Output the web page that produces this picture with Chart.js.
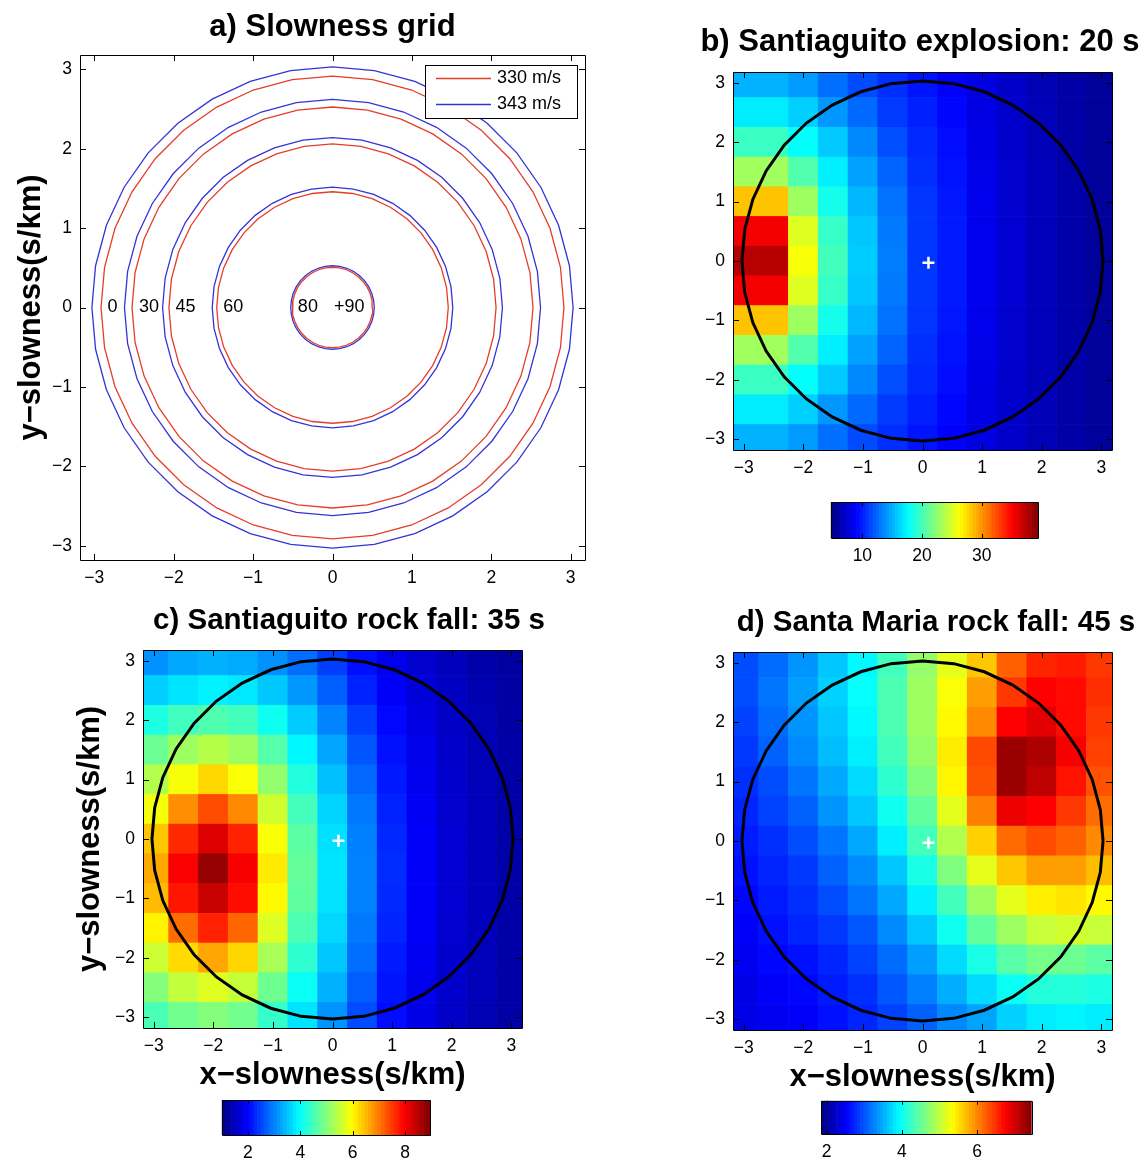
<!DOCTYPE html>
<html>
<head>
<meta charset="utf-8">
<script src="https://cdn.jsdelivr.net/npm/chart.js@4.4.1/dist/chart.umd.min.js"></script>
<style>
html, body { margin: 0; background: #fff; overflow: hidden; width: 1147px; height: 1160px; }
canvas { position: absolute; }
</style>
</head>
<body>
<canvas id="chA" width="665" height="600" style="left:0;top:0"></canvas>
<canvas id="chB" width="454" height="490" style="left:693px;top:0"></canvas>
<canvas id="cbB" width="270" height="75" style="left:800px;top:495px"></canvas>
<canvas id="chC" width="698" height="500" style="left:0;top:595px"></canvas>
<canvas id="cbC" width="270" height="68" style="left:190px;top:1095px"></canvas>
<canvas id="chD" width="482" height="500" style="left:695px;top:597px"></canvas>
<canvas id="cbD" width="270" height="66" style="left:790px;top:1097px"></canvas>
<script>
const q = (s) => document.querySelector(s);

// axes
const tickVals = [-3, -2, -1, 0, 1, 2, 3];
const axisMax = 3.18;

// panel a: slowness rings (s/km)
const ringsRed = [2.915, 2.525, 2.06, 1.458, 0.506];   // 330 m/s
const ringsBlue = [3.03, 2.62, 2.14, 1.515, 0.526];    // 343 m/s
const ringNames = ['330 m/s', '343 m/s'];
const angleLabels = ['0', '30', '45', '60', '80', '+90'];
const angleLabelX = [-2.77, -2.31, -1.85, -1.25, -0.31, 0.21];
const ringSides = 36;

// panels b-d
const outlineRadius = 3.03;
const crossPos = [0.1, -0.03];
const xCells = [-3, -2.5, -2, -1.5, -1, -0.5, 0, 0.5, 1, 1.5, 2, 2.5, 3];
const yCells = [3, 2.5, 2, 1.5, 1, 0.5, 0, -0.5, -1, -1.5, -2, -2.5, -3];

const rangeB = [4.7, 39.4];
const cbTicksB = [10, 20, 30];
const gridB = [
  [15.1, 15.1, 14.3, 12.8, 11.6, 10.6, 9.7, 8.9, 8.0, 7.2, 6.5, 6.0, 5.6],
  [17.1, 17.1, 16.1, 14.2, 12.6, 11.0, 10.1, 9.2, 8.1, 7.3, 6.6, 6.0, 5.6],
  [19.7, 19.7, 17.8, 15.9, 13.7, 11.7, 10.4, 9.4, 8.2, 7.3, 6.6, 6.0, 5.6],
  [23.2, 23.2, 20.5, 17.2, 14.5, 12.4, 10.6, 9.6, 8.3, 7.4, 6.7, 6.1, 5.6],
  [28.4, 28.4, 23.1, 18.4, 15.3, 12.9, 10.8, 9.8, 8.4, 7.4, 6.7, 6.1, 5.6],
  [35.4, 35.4, 25.3, 19.6, 15.8, 13.2, 10.9, 9.9, 8.4, 7.5, 6.7, 6.1, 5.6],
  [37.5, 37.5, 26.2, 20.0, 16.0, 13.3, 10.9, 9.9, 8.5, 7.5, 6.7, 6.1, 5.6],
  [35.4, 35.4, 25.3, 19.6, 15.8, 13.2, 10.9, 9.9, 8.4, 7.5, 6.7, 6.1, 5.6],
  [28.4, 28.4, 23.1, 18.4, 15.3, 12.9, 10.8, 9.8, 8.4, 7.4, 6.7, 6.1, 5.6],
  [23.2, 23.2, 20.5, 17.2, 14.5, 12.4, 10.6, 9.6, 8.3, 7.4, 6.7, 6.1, 5.6],
  [19.7, 19.7, 17.8, 15.9, 13.7, 11.7, 10.4, 9.4, 8.2, 7.3, 6.6, 6.0, 5.6],
  [17.1, 17.1, 16.1, 14.2, 12.6, 11.0, 10.1, 9.2, 8.1, 7.3, 6.6, 6.0, 5.6],
  [15.1, 15.1, 14.3, 12.8, 11.6, 10.6, 9.7, 8.9, 8.0, 7.2, 6.5, 6.0, 5.6]
];

const rangeC = [1.0, 8.95];
const cbTicksC = [2, 4, 6, 8];
const gridC = [
  [3.14, 3.30, 3.37, 3.33, 3.12, 2.85, 2.48, 2.10, 1.85, 1.62, 1.48, 1.34, 1.26],
  [3.60, 3.78, 3.88, 3.80, 3.55, 3.18, 2.74, 2.25, 1.95, 1.69, 1.52, 1.38, 1.28],
  [4.20, 4.48, 4.60, 4.50, 4.08, 3.58, 3.02, 2.48, 2.04, 1.77, 1.56, 1.41, 1.29],
  [4.82, 5.21, 5.40, 5.23, 4.65, 3.93, 3.28, 2.66, 2.12, 1.83, 1.58, 1.43, 1.30],
  [5.37, 5.91, 6.27, 5.93, 5.13, 4.24, 3.49, 2.80, 2.18, 1.87, 1.60, 1.45, 1.31],
  [5.89, 6.85, 7.37, 6.89, 5.60, 4.51, 3.65, 2.92, 2.25, 1.91, 1.62, 1.47, 1.31],
  [6.41, 7.64, 8.23, 7.70, 5.93, 4.69, 3.74, 2.99, 2.30, 1.94, 1.64, 1.48, 1.32],
  [6.64, 7.99, 8.78, 8.03, 6.13, 4.76, 3.78, 3.01, 2.33, 1.95, 1.64, 1.48, 1.32],
  [6.50, 7.79, 8.39, 7.86, 6.01, 4.72, 3.76, 3.00, 2.31, 1.94, 1.64, 1.48, 1.32],
  [6.06, 7.11, 7.70, 7.16, 5.71, 4.58, 3.68, 2.94, 2.27, 1.92, 1.63, 1.47, 1.31],
  [5.56, 6.25, 6.66, 6.29, 5.30, 4.35, 3.55, 2.85, 2.19, 1.89, 1.61, 1.45, 1.31],
  [5.02, 5.49, 5.71, 5.52, 4.84, 4.05, 3.37, 2.73, 2.14, 1.85, 1.60, 1.44, 1.30],
  [4.55, 4.86, 5.00, 4.87, 4.39, 3.77, 3.15, 2.57, 2.08, 1.80, 1.57, 1.42, 1.29]
];

const rangeD = [1.85, 7.45];
const cbTicksD = [2, 4, 6];
const gridD = [
  [2.97, 3.14, 3.36, 3.64, 3.92, 4.31, 4.76, 5.21, 5.66, 6.22, 6.55, 6.61, 6.44],
  [2.97, 3.19, 3.42, 3.70, 3.98, 4.37, 4.82, 5.32, 5.88, 6.45, 6.75, 6.70, 6.50],
  [2.91, 3.14, 3.36, 3.64, 3.92, 4.37, 4.82, 5.38, 6.00, 6.75, 6.90, 6.70, 6.45],
  [2.86, 3.08, 3.31, 3.59, 3.87, 4.31, 4.76, 5.45, 6.35, 7.30, 7.20, 6.80, 6.40],
  [2.80, 2.97, 3.19, 3.47, 3.75, 4.20, 4.65, 5.40, 6.30, 7.30, 7.10, 6.65, 6.30],
  [2.75, 2.91, 3.08, 3.36, 3.64, 4.03, 4.48, 5.20, 6.05, 6.85, 6.75, 6.45, 6.15],
  [2.69, 2.80, 2.97, 3.19, 3.47, 3.87, 4.31, 4.93, 5.60, 6.16, 6.33, 6.22, 5.99],
  [2.63, 2.75, 2.86, 3.08, 3.31, 3.64, 4.09, 4.65, 5.21, 5.66, 5.88, 5.88, 5.71],
  [2.58, 2.69, 2.80, 2.97, 3.19, 3.47, 3.87, 4.31, 4.82, 5.21, 5.43, 5.49, 5.38],
  [2.52, 2.63, 2.75, 2.86, 3.03, 3.31, 3.64, 4.03, 4.48, 4.82, 5.04, 5.10, 5.04],
  [2.47, 2.58, 2.63, 2.75, 2.91, 3.14, 3.42, 3.75, 4.09, 4.43, 4.60, 4.55, 4.45],
  [2.41, 2.52, 2.58, 2.69, 2.80, 3.03, 3.25, 3.50, 3.75, 4.00, 4.15, 4.15, 4.10],
  [2.41, 2.47, 2.52, 2.63, 2.75, 2.91, 3.08, 3.30, 3.45, 3.70, 3.85, 3.90, 3.85]
];

Chart.defaults.font.family = '"Liberation Sans", Arial, Helvetica, sans-serif';
Chart.defaults.color = '#000';
Chart.defaults.animation = false;

const fmt = (v) => String(v).replace('-', '\u2212');
const tickFont = { size: 17.5 };
const bigFont = { size: 31, weight: 'bold' };
const fontCss = '18px "Liberation Sans", Arial, sans-serif';

function jet(t) {
  t = Math.min(1, Math.max(0, t));
  const c = (v) => Math.round(255 * Math.min(1, Math.max(0, v)));
  return `rgb(${c(1.5 - Math.abs(4 * t - 3))},${c(1.5 - Math.abs(4 * t - 2))},${c(1.5 - Math.abs(4 * t - 1))})`;
}

const ring = (r) => Array.from({ length: ringSides + 1 }, (_, i) => {
  const a = (i / ringSides) * 2 * Math.PI;
  return { x: r * Math.cos(a), y: r * Math.sin(a) };
});

// box round the axes, with matlab style inward ticks
const framePlugin = {
  id: 'frame',
  afterDatasetsDraw(chart, args, opts) {
    const { ctx, chartArea: a, scales } = chart;
    const L = opts.len || 6;
    ctx.save();
    ctx.strokeStyle = '#000';
    ctx.lineWidth = 1;
    ctx.beginPath();
    scales.x.ticks.forEach((t) => {
      const px = Math.round(scales.x.getPixelForValue(t.value)) + 0.5;
      ctx.moveTo(px, a.bottom); ctx.lineTo(px, a.bottom - L);
      ctx.moveTo(px, a.top); ctx.lineTo(px, a.top + L);
    });
    if (scales.y.options.display) {
      scales.y.ticks.forEach((t) => {
        const py = Math.round(scales.y.getPixelForValue(t.value)) + 0.5;
        ctx.moveTo(a.left, py); ctx.lineTo(a.left + L, py);
        ctx.moveTo(a.right, py); ctx.lineTo(a.right - L, py);
      });
    }
    ctx.rect(Math.round(a.left) + 0.5, Math.round(a.top) + 0.5, Math.round(a.right - a.left), Math.round(a.bottom - a.top));
    ctx.stroke();
    ctx.restore();
  }
};

const ringLegend = {
  id: 'ringLegend',
  afterDatasetsDraw(chart) {
    const { ctx, chartArea: a } = chart;
    const items = chart.data.datasets.filter((d) => d.label);
    const w = 152, h = 53, x0 = Math.round(a.right - 8 - w), y0 = Math.round(a.top + 10);
    ctx.save();
    ctx.fillStyle = '#fff';
    ctx.fillRect(x0, y0, w, h);
    ctx.strokeStyle = '#000';
    ctx.lineWidth = 1;
    ctx.strokeRect(x0 + 0.5, y0 + 0.5, w, h);
    ctx.font = fontCss;
    ctx.textBaseline = 'middle';
    ctx.fillStyle = '#000';
    items.forEach((d, i) => {
      const yy = y0 + 13.5 + i * 26;
      ctx.strokeStyle = d.borderColor;
      ctx.lineWidth = d.borderWidth;
      ctx.beginPath(); ctx.moveTo(x0 + 11, yy); ctx.lineTo(x0 + 66, yy); ctx.stroke();
      ctx.fillText(d.label, x0 + 72, yy);
    });
    ctx.restore();
  }
};

const angleText = {
  id: 'angleText',
  afterDatasetsDraw(chart) {
    const { ctx, scales: { x, y } } = chart;
    ctx.save();
    ctx.font = fontCss;
    ctx.textAlign = 'center';
    ctx.textBaseline = 'middle';
    ctx.fillStyle = '#000';
    angleLabels.forEach((t, i) => ctx.fillText(t, x.getPixelForValue(angleLabelX[i]), y.getPixelForValue(0)));
    ctx.restore();
  }
};

function axes(o) {
  return {
    x: {
      type: 'linear', min: -axisMax, max: axisMax, offset: false,
      grid: { display: false, drawTicks: false }, border: { display: false },
      ticks: { font: tickFont, padding: 8, maxRotation: 0, callback: fmt },
      afterBuildTicks: (s) => { s.ticks = tickVals.map((value) => ({ value })); },
      afterFit: (s) => { s.height = o.bottom; },
      title: o.xTitle ? { display: true, text: 'x\u2212slowness(s/km)', font: bigFont, padding: { top: 0, bottom: o.xTitlePad } } : { display: false }
    },
    y: {
      type: 'linear', min: -axisMax, max: axisMax,
      grid: { display: false, drawTicks: false }, border: { display: false },
      ticks: { font: tickFont, padding: 8, callback: fmt },
      afterBuildTicks: (s) => { s.ticks = tickVals.map((value) => ({ value })); },
      afterFit: (s) => { s.width = o.left; },
      title: o.yTitle ? { display: true, text: 'y\u2212slowness(s/km)', font: bigFont, padding: { top: o.yTitlePad, bottom: 0 } } : { display: false }
    },
    yR: {
      position: 'right', display: true,
      ticks: { display: false }, grid: { display: false }, border: { display: false },
      afterFit: (s) => { s.width = o.right; }
    }
  };
}

function baseOptions(o) {
  return {
    responsive: false,
    animation: false,
    layout: { padding: 0 },
    plugins: {
      legend: { display: false },
      tooltip: { enabled: false },
      title: { display: true, text: o.title, font: { size: o.titleSize || 31, weight: 'bold' }, color: '#000', padding: { top: o.titleTop, bottom: o.titleBottom } },
      frame: { len: 6 }
    },
    scales: axes(o)
  };
}

// a) slowness grid
const ringSets = [];
ringsRed.forEach((r, i) => ringSets.push({ label: i === 0 ? ringNames[0] : '', data: ring(r), borderColor: '#e63c2a', borderWidth: 1.3 }));
ringsBlue.forEach((r, i) => ringSets.push({ label: i === 0 ? ringNames[1] : '', data: ring(r), borderColor: '#3434d6', borderWidth: 1.3 }));
new Chart(q('#chA'), {
  type: 'scatter',
  data: { datasets: ringSets.map((d) => ({ ...d, showLine: true, pointRadius: 0, fill: false })) },
  options: baseOptions({ title: 'a) Slowness grid', titleTop: 8.4, titleBottom: 9.4, left: 80, right: 80, bottom: 40, yTitle: true, yTitlePad: 12.4 }),
  plugins: [framePlugin, angleText, ringLegend]
});

function heatChart(id, grid, range, o) {
  const data = [], colors = [];
  const half = (xCells[1] - xCells[0]) / 2;
  yCells.forEach((y, r) => xCells.forEach((x, c) => {
    data.push({ x, y: [y - half, y + half] });
    colors.push(jet((grid[r][c] - range[0]) / (range[1] - range[0])));
  }));
  return new Chart(q(id), {
    type: 'bar',
    data: {
      datasets: [
        { type: 'scatter', data: [{ x: crossPos[0], y: crossPos[1] }], pointStyle: 'cross', pointRadius: 6, borderColor: '#fff', borderWidth: 2.5, order: 0 },
        { type: 'line', data: ring(outlineRadius), borderColor: '#000', borderWidth: 3, pointRadius: 0, fill: false, order: 1 },
        { data, backgroundColor: colors, borderWidth: 0, barPercentage: 1, categoryPercentage: 1, clip: 0, order: 2 }
      ]
    },
    options: baseOptions(o),
    plugins: [framePlugin]
  });
}

function colorbar(id, range, ticks, o) {
  const n = 64, step = (range[1] - range[0]) / n;
  const data = [], colors = [];
  for (let i = 0; i < n; i++) {
    data.push({ x: range[0] + step * (i + 0.5), y: [0, 1] });
    colors.push(jet((i + 0.5) / n));
  }
  return new Chart(q(id), {
    type: 'bar',
    data: { datasets: [{ data, backgroundColor: colors, borderWidth: 0, barPercentage: 1, categoryPercentage: 1, clip: 0 }] },
    options: {
      responsive: false,
      animation: false,
      layout: { padding: { left: o.left, right: o.right, top: o.top, bottom: 0 } },
      plugins: { legend: { display: false }, tooltip: { enabled: false }, frame: { len: 4 } },
      scales: {
        x: {
          type: 'linear', min: range[0], max: range[1], offset: false,
          grid: { display: false, drawTicks: false }, border: { display: false },
          ticks: { font: tickFont, padding: 8, maxRotation: 0 },
          afterBuildTicks: (s) => { s.ticks = ticks.map((value) => ({ value })); },
          afterFit: (s) => { s.height = o.bottom; }
        },
        y: { display: false, min: 0, max: 1 }
      }
    },
    plugins: [framePlugin]
  });
}

heatChart('#chB', gridB, rangeB, { title: 'b) Santiaguito explosion: 20 s', titleTop: 23.4, titleBottom: 11.4, left: 40, right: 35, bottom: 40 });
colorbar('#cbB', rangeB, cbTicksB, { left: 30.7, right: 32, top: 7, bottom: 32 });

heatChart('#chC', gridC, rangeC, { title: 'c) Santiaguito rock fall: 35 s', titleSize: 29.5, titleTop: 8.3, titleBottom: 11.3, left: 143, right: 176, bottom: 67, xTitle: true, xTitlePad: 1.4, yTitle: true, yTitlePad: 71.4 });
colorbar('#cbC', rangeC, cbTicksC, { left: 31.7, right: 30, top: 5, bottom: 28 });

heatChart('#chD', gridD, rangeD, { title: 'd) Santa Maria rock fall: 45 s', titleSize: 29.5, titleTop: 8.3, titleBottom: 11.3, left: 38, right: 65, bottom: 67, xTitle: true, xTitlePad: 1.4 });
colorbar('#cbD', rangeD, cbTicksD, { left: 31, right: 28.3, top: 3.7, bottom: 29 });
</script>
</body>
</html>
